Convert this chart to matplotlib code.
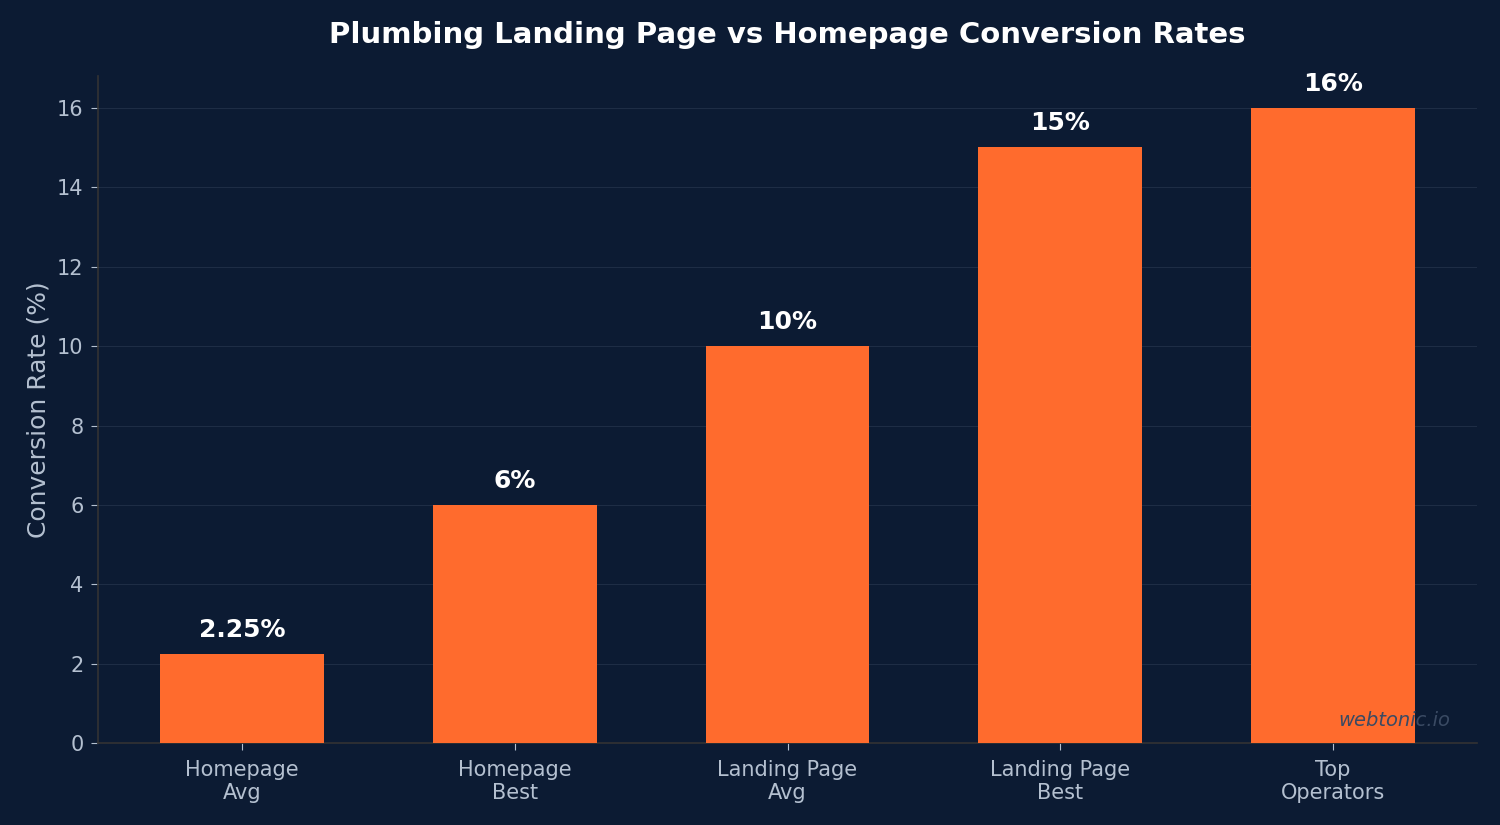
import matplotlib
matplotlib.use("Agg")
import matplotlib.pyplot as plt

categories = ["Homepage\nAvg", "Homepage\nBest", "Landing Page\nAvg", "Landing Page\nBest", "Top\nOperators"]
rates = [2.25, 6, 10, 15, 16]
labels = ["2.25%", "6%", "10%", "15%", "16%"]

bg = "#0c1b33"
bar_color = "#ff6b2d"
text_color = "#b4c0d0"

fig, ax = plt.subplots(figsize=(15, 8.25), dpi=100)
fig.patch.set_facecolor(bg)
ax.set_facecolor(bg)

x = range(len(categories))
ax.bar(x, rates, width=0.6, color=bar_color, zorder=3)

for i, (v, lab) in enumerate(zip(rates, labels)):
    ax.text(i, v + 0.3, lab, ha="center", va="bottom", fontsize=18,
            fontweight="bold", color="white", zorder=4)

ax.set_xticks(list(x))
ax.set_xticklabels(categories, fontsize=15, color=text_color)
ax.tick_params(axis="y", labelsize=15, colors=text_color, length=5, pad=5)
ax.tick_params(axis="x", colors=text_color, length=5, pad=7)
ax.set_ylabel("Conversion Rate (%)", fontsize=18, color=text_color, labelpad=5)
ax.set_title("Plumbing Landing Page vs Homepage Conversion Rates", fontsize=21,
             fontweight="bold", color="white", pad=24)

ax.grid(axis="y", color="#1e2d45", linewidth=0.8, zorder=0)
ax.set_axisbelow(True)
for s in ["top", "right"]:
    ax.spines[s].set_visible(False)
for s in ["left", "bottom"]:
    ax.spines[s].set_color("#333333")
    ax.spines[s].set_linewidth(1.2)

ax.text(0.98, 0.02, "webtonic.io", transform=ax.transAxes, ha="right", va="bottom",
        fontsize=14, style="italic", color="#3a4a63", zorder=5)

fig.subplots_adjust(left=0.065, right=0.985, top=0.908, bottom=0.099)
fig.savefig("out.png", dpi=100, facecolor=bg)
